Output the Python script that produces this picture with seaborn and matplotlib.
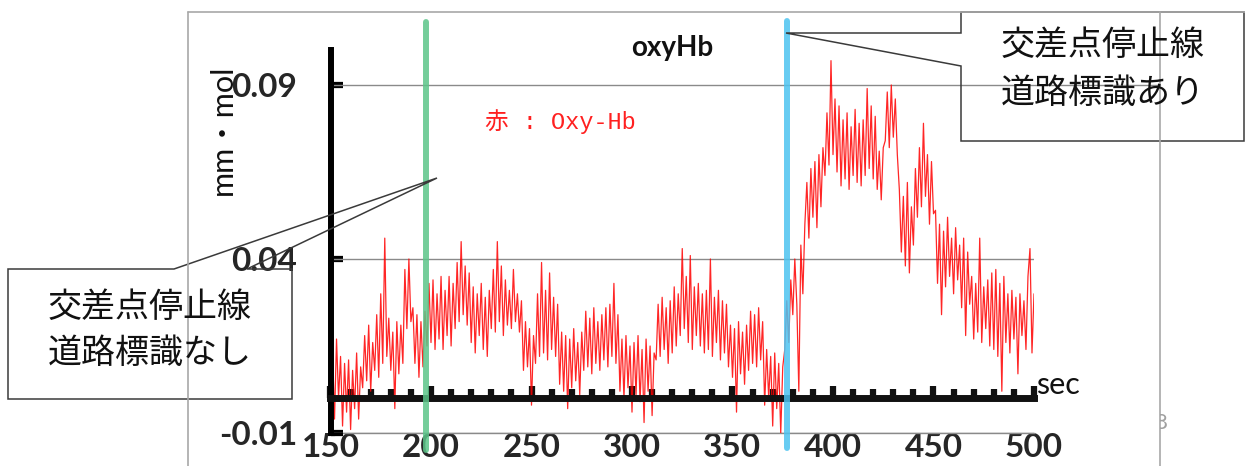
import numpy as np
import matplotlib
matplotlib.use('Agg')
import matplotlib.pyplot as plt
import seaborn as sns
from matplotlib.patches import Polygon
from matplotlib.lines import Line2D
from matplotlib.ticker import MultipleLocator
from matplotlib.transforms import Bbox

# oxyHb trace at 1 s steps (unit: 0.001 mm・mol), t = 150 ... 500
oxy_hb_milli = [
    2, 14, -6, 17, 0, 12, -8, 10, -4, 11,        # 150
    -9, 8, -3, 13, -6, 9, 3, 18, 5, 21,          # 160
    2, 16, 8, 24, 6, 30, 10, 46, 12, 23,         # 170
    8, 19, -3, 22, 7, 21, 10, 37, 20, 40,        # 180
    22, 26, 10, 24, 6, 22, 9, 25, 15, 33,        # 190
    16, 34, 14, 30, 17, 35, 14, 31, 18, 35,      # 200
    15, 33, 20, 39, 22, 45, 24, 38, 21, 36,      # 210
    16, 32, 13, 30, 18, 33, 14, 29, 12, 31,      # 220
    20, 37, 19, 45, 22, 38, 18, 34, 21, 31,      # 230
    20, 37, 22, 30, 19, 28, 8, 22, 9, 20,        # 240
    -2, 18, 10, 30, 12, 39, 13, 31, 11, 36,      # 250
    14, 29, 12, 27, 4, 19, 2, 18, -3, 17,        # 260
    3, 20, 5, 16, 1, 19, 8, 25, 9, 23,           # 270
    7, 26, 10, 22, 8, 24, 11, 26, 9, 27,         # 280
    12, 33, 10, 24, 2, 17, 0, 18, 3, 15,         # 290
    -4, 16, 1, 18, -1, 14, -7, 17, 2, 15,        # 300
    -5, 13, 11, 27, 12, 29, 14, 26, 10, 28,      # 310
    13, 32, 15, 30, 18, 43, 20, 35, 16, 41,      # 320
    14, 32, 18, 33, 15, 30, 13, 31, 14, 40,      # 330
    12, 29, 16, 31, 11, 28, 13, 27, 9, 21,       # 340
    6, 20, -4, 22, 7, 19, 4, 21, 8, 25,          # 350
    10, 24, 9, 26, 11, 22, -2, 14, 0, 12,        # 360
    -8, 13, -3, 10, -10, 9, 14, 28, 16, 34,      # 370
    24, 40, 27, 2, 44, 30, 50, 62, 46, 66,       # 380
    52, 68, 49, 70, 55, 72, 64, 82, 67, 97,      # 390
    70, 86, 65, 84, 61, 80, 63, 82, 60, 78,      # 400
    64, 83, 62, 79, 61, 80, 64, 89, 66, 84,      # 410
    63, 81, 60, 71, 57, 72, 74, 88, 72, 90,      # 420
    75, 86, 70, 60, 42, 58, 38, 62, 36, 55,      # 430
    44, 66, 52, 72, 55, 79, 58, 70, 50, 68,      # 440
    53, 54, 33, 50, 24, 48, 32, 52, 35, 46,      # 450
    30, 49, 34, 44, 26, 46, 18, 42, 27, 35,      # 460
    17, 33, 19, 46, 16, 32, 20, 34, 15, 36,      # 470
    14, 37, 12, 33, 2, 35, 16, 30, 13, 31,       # 480
    17, 29, 7, 30, 18, 28, 14, 35, 43, 13,       # 490
    30,                                          # 500
]
time_start = 150

x_ticks = [150, 200, 250, 300, 350, 400, 450, 500]
x_tick_labels = ['150', '200', '250', '300', '350', '400', '450', '500']
y_ticks = [-0.01, 0.04, 0.09]
y_tick_labels = ['-0.01', '0.04', '0.09']

# 刺激のタイミング (sec)
t_no_sign = 197.5   # 交差点停止線 道路標識なし
t_sign = 377        # 交差点停止線 道路標識あり

sns.set_theme(style='white')
plt.rcParams['font.family'] = ['Lato', 'Noto Sans CJK JP', 'DejaVu Sans']
plt.rcParams['axes.unicode_minus'] = False

oxy = np.array(oxy_hb_milli) / 1000.0
t = time_start + np.arange(len(oxy))

fig = plt.figure(figsize=(12.45, 4.66), dpi=100)
fig.patch.set_facecolor('white')

# axes in pixel layout: x 330.5..1034, y 50..433
W, H = 1245, 466
ax = fig.add_axes([330.5 / W, 1 - 433 / H, (1034 - 330.5) / W, (433 - 50.2) / H])
ax.set_facecolor('none')

sns.lineplot(x=t, y=oxy, ax=ax, color='#ff0000', lw=0.9, alpha=0.85, zorder=3)

ax.set_xlim(150, 500)
ax.set_ylim(-0.01, 0.1)
ax.set_xlabel('')
ax.set_ylabel('')

# gridlines
for yv in y_ticks:
    ax.axhline(yv, color='#8a8a8a', lw=1.0, zorder=1)

# spines
ax.spines['top'].set_visible(False)
ax.spines['right'].set_visible(False)
ax.spines['left'].set_linewidth(4.3)
ax.spines['left'].set_color('black')
ax.spines['bottom'].set_position(('data', 0))
ax.spines['bottom'].set_linewidth(5)
ax.spines['bottom'].set_color('#111111')
ax.spines['bottom'].set_zorder(4)
ax.spines['left'].set_zorder(4)

ax.set_yticks(y_ticks)
ax.set_yticklabels(y_tick_labels, fontsize=24, fontweight='bold')
ax.tick_params(axis='y', direction='in', length=8.3, width=4.5, pad=24,
               color='black', left=True)

ax.set_xticks(x_ticks)
ax.xaxis.set_minor_locator(MultipleLocator(10))
ax.tick_params(axis='x', which='major', direction='in', length=8.5, width=4.5,
               labelbottom=False, bottom=True, color='#111111')
ax.tick_params(axis='x', which='minor', direction='in', length=6.2, width=4.5,
               bottom=True, color='#111111')

# tick labels at bottom of the panel
sec = ax.secondary_xaxis('bottom')
sec.set_xticks(x_ticks)
sec.set_xticklabels(x_tick_labels, fontsize=24, fontweight='bold')
sec.tick_params(length=0, pad=0)
sec.spines['bottom'].set_color('#8a8a8a')
sec.spines['bottom'].set_linewidth(1.0)

# stimulus lines
ax.axvline(t_no_sign, ymin=-0.044, ymax=1.074, color='#5cc589', lw=4.3,
           alpha=0.85, clip_on=False, zorder=5)
ax.axvline(t_sign, ymin=-0.039, ymax=1.076, color='#4cc3f0', lw=4.3,
           alpha=0.85, clip_on=False, zorder=5)

# overlay in pixel coordinates for slide decorations
ov = fig.add_axes([0, 0, 1, 1])
ov.set_xlim(0, W)
ov.set_ylim(H, 0)
ov.axis('off')

frame_c = '#a8a8a8'
ov.add_line(Line2D([188, W], [12, 12], color=frame_c, lw=1.2))
ov.add_line(Line2D([188, 188], [12, H], color=frame_c, lw=1.2))
ov.add_line(Line2D([1160, 1160], [12, H], color=frame_c, lw=1.2))
ov.add_line(Line2D([1034, 1160], [85, 85], color='#8a8a8a', lw=1.0))

box_c = '#3a3a3a'
left_box = [(8, 269), (174, 269), (437, 178), (247, 269), (292, 269),
            (292, 399), (8, 399)]
ov.add_patch(Polygon(left_box, closed=True, fill=False, ec=box_c, lw=1.1))
right_box = [(961, 12), (1244, 12), (1244, 141), (961, 141), (961, 66),
             (786, 33), (961, 33)]
ov.add_patch(Polygon(right_box, closed=True, fill=False, ec=box_c, lw=1.1))

cjk = ['Noto Sans CJK JP', 'DejaVu Sans']
ov.text(150, 307, '交差点停止線', ha='center', va='center', fontsize=24.5,
        family=cjk, color='#111111')
ov.text(150, 353, '道路標識なし', ha='center', va='center', fontsize=24.5,
        family=cjk, color='#111111')
ov.text(1103, 45, '交差点停止線', ha='center', va='center', fontsize=24.5,
        family=cjk, color='#111111')
ov.text(1103, 93, '道路標識あり', ha='center', va='center', fontsize=24.5,
        family=cjk, color='#111111')

ov.text(672, 48, 'oxyHb', ha='center', va='center', fontsize=20,
        fontweight='bold', color='#111111')
ov.text(485, 122, '赤 : Oxy-Hb', ha='left', va='center', fontsize=17,
        family=['Liberation Mono', 'Noto Sans CJK JP'], color='#ff2020')
ov.text(223, 130, 'mm・mol', ha='center', va='center', rotation=90,
        fontsize=22, family=['Lato', 'Noto Sans CJK JP'], color='#111111')
ov.text(1036, 385, 'sec', ha='left', va='center', fontsize=22, color='#111111')

page = ov.text(1161, 423, '8', ha='center', va='center', fontsize=16,
               color='#a0a0a0')
page.set_clip_box(Bbox([[1160, 0], [W, H]]))
page.set_clip_on(True)

fig.savefig('out.png', dpi=100, facecolor='white')
